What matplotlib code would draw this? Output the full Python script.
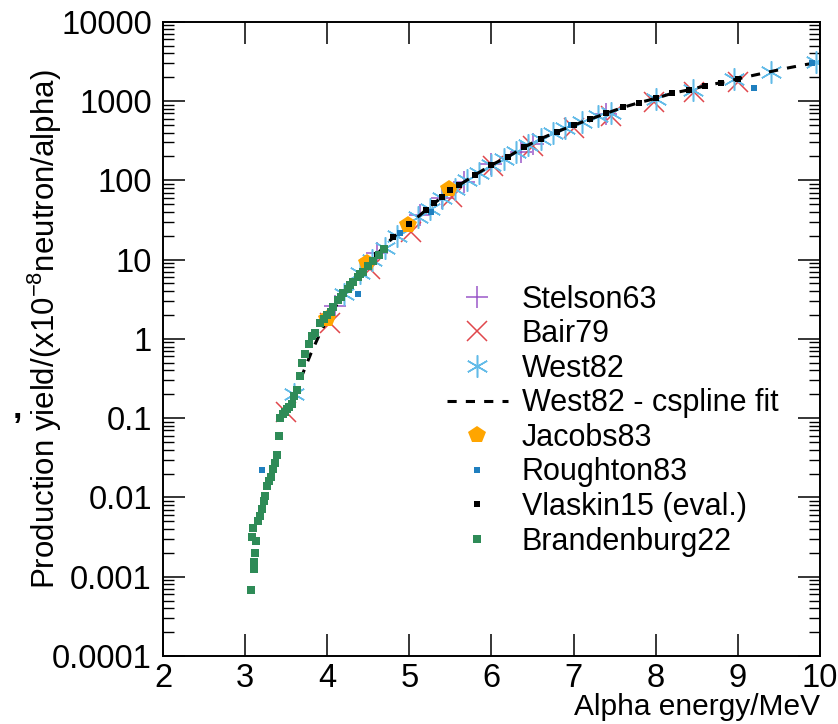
# coding=utf-8
import numpy as np
import matplotlib
matplotlib.use('Agg')
import matplotlib.pyplot as plt
from matplotlib.ticker import FixedLocator, LogLocator, FuncFormatter, NullFormatter

plt.rcParams['font.family'] = ['Liberation Sans', 'DejaVu Sans']
plt.rcParams['mathtext.default'] = 'regular'

# ---- data (alpha energy / MeV, yield x1e-8 n/alpha) ----
stelson_e = [4.1, 4.6, 5.13, 5.4, 5.66, 6.0, 6.36, 6.5, 7.4]
stelson_y = [2.6, 12, 36, 60, 95, 160, 225, 285, 690]

bair_e = [3.5, 4.03, 4.52, 5.02, 5.52, 6.02, 6.5, 7.0, 7.46, 7.98, 8.47, 9.0]
bair_y = [0.12, 1.6, 7.5, 22, 62, 150, 270, 460, 640, 975, 1280, 1720]

west_e = [3.6, 4.2, 4.4, 4.55, 4.7, 4.85, 5.1, 5.25, 5.4, 5.55, 5.7, 5.85,
          6.0, 6.15, 6.3, 6.45, 6.6, 6.75, 6.9, 7.1, 7.3, 7.45, 8.0, 8.45,
          8.95, 9.4, 9.95]
west_y = [0.2, 3.7, 6.8, 10, 14, 20, 34, 44, 60, 78, 100, 125,
          155, 185, 230, 280, 335, 390, 460, 540, 640, 700, 1060, 1380,
          1880, 2350, 3100]

fit_e = [3.5, 3.6, 3.7, 3.8, 3.9, 4.0, 4.2, 4.4, 4.6, 4.8, 5.0, 5.2, 5.4,
         5.6, 5.8, 6.0, 6.2, 6.4, 6.6, 6.8, 7.0, 7.2, 7.4, 7.6, 7.8, 8.0,
         8.2, 8.4, 8.6, 8.8, 9.0, 9.2, 9.4, 9.6, 9.8, 10.0]
fit_y = [0.12, 0.2, 0.36, 0.65, 1.1, 1.75, 3.7, 6.8, 11.5, 19, 28, 42, 62,
         86, 117, 156, 198, 262, 335, 410, 495, 590, 700, 830, 955, 1080,
         1250, 1380, 1550, 1710, 1900, 2120, 2350, 2600, 2850, 3100]

jacobs_e = [4.0, 4.49, 4.98, 5.48]
jacobs_y = [1.8, 9.0, 27, 78]

roughton_e = [3.21, 4.38, 4.89, 5.26, 6.97, 9.2, 9.9]
roughton_y = [0.022, 3.7, 21.5, 40, 500, 1470, 3030]

vlaskin_e = [4.2, 4.4, 4.6, 4.8, 5.0, 5.2, 5.3, 5.4, 5.5, 5.6, 5.8, 6.0,
             6.2, 6.4, 6.6, 6.8, 7.0, 7.2, 7.4, 7.6, 7.8, 8.0, 8.2, 8.4,
             8.6, 8.8, 9.0]
vlaskin_y = [3.7, 6.8, 11.5, 19, 28, 42, 51, 62, 75, 86, 117, 156,
             198, 262, 335, 410, 495, 590, 700, 830, 955, 1080, 1250, 1380,
             1550, 1710, 1900]

brand_e = [3.071, 3.083, 3.090, 3.103, 3.111, 3.123, 3.132, 3.151, 3.184,
           3.205, 3.233, 3.245, 3.266, 3.286, 3.315, 3.339, 3.368, 3.388,
           3.408, 3.429, 3.465, 3.49, 3.51, 3.53, 3.571, 3.60, 3.632, 3.673,
           3.694, 3.734, 3.774, 3.816, 3.856, 3.917, 3.96, 4.002, 4.04,
           4.076, 4.137, 4.17, 4.198, 4.247, 4.28, 4.308, 4.369, 4.40,
           4.43, 4.491, 4.552, 4.625, 4.686]
brand_y = [0.00068, 0.0032, 0.0041, 0.00125, 0.00153, 0.0020, 0.0028,
           0.0051, 0.0058, 0.0072, 0.0091, 0.0105, 0.014, 0.016, 0.018,
           0.023, 0.027, 0.034, 0.060, 0.099, 0.114, 0.12, 0.132, 0.14,
           0.152, 0.19, 0.223, 0.335, 0.489, 0.65, 0.87, 1.10, 1.2, 1.57,
           1.8, 1.98, 2.2, 2.49, 3.06, 3.4, 3.75, 4.3, 4.8, 5.2, 6.0, 6.5,
           6.9, 8.2, 9.5, 11.3, 13.5]

x_ticks = [2, 3, 4, 5, 6, 7, 8, 9, 10]
y_ticks = [1e-4, 1e-3, 1e-2, 1e-1, 1, 10, 100, 1000, 10000]

fig = plt.figure(figsize=(8.38, 7.24), dpi=100)
ax = fig.add_axes([0.1945, 0.094, 0.784, 0.876])

ax.plot(stelson_e, stelson_y, ls='none', marker='+', ms=16, mew=1.1,
        color='#9b59c9', label='Stelson63')
ax.plot(bair_e, bair_y, ls='none', marker='x', ms=14, mew=1.1,
        color='#e0474c', label='Bair79')
ax.plot(west_e, west_y, ls='none', marker=(6, 2, 0), ms=16, mew=1.1,
        color='#62bbe8', label='West82')
ax.plot(fit_e, fit_y, ls=(0, (3, 3)), lw=2.2, color='black',
        label='West82 - cspline fit')
ax.plot(jacobs_e, jacobs_y, ls='none', marker='p', ms=13, mew=0,
        color='#ffa500', label='Jacobs83')
ax.plot(roughton_e, roughton_y, ls='none', marker='s', ms=5, mew=0,
        color='#1f7fbf', label='Roughton83')
ax.plot(vlaskin_e, vlaskin_y, ls='none', marker='s', ms=5, mew=0,
        color='black', label='Vlaskin15 (eval.)')
ax.plot(brand_e, brand_y, ls='none', marker='s', ms=6, mew=0,
        color='#2e8b57', label='Brandenburg22')

ax.set_yscale('log')
ax.set_xlim(2, 10)
ax.set_ylim(1e-4, 1e4)
ax.xaxis.set_major_locator(FixedLocator(x_ticks))
ax.yaxis.set_major_locator(FixedLocator(y_ticks))
ax.yaxis.set_minor_locator(LogLocator(base=10, subs=np.arange(2, 10), numticks=20))
ax.yaxis.set_major_formatter(FuncFormatter(lambda v, p: '%g' % v))
ax.yaxis.set_minor_formatter(NullFormatter())

ax.tick_params(which='major', direction='in', length=16, width=1.1,
               labelsize=23.5, top=True, right=True, pad=8)
ax.tick_params(axis='x', which='major', pad=5)
ax.tick_params(which='minor', direction='in', length=8, width=1.0,
               top=True, right=True)
for s in ax.spines.values():
    s.set_linewidth(1.4)

ax.set_xlabel('Alpha energy/MeV', fontsize=21.5, loc='right')
ax.xaxis.set_label_coords(1.0, -0.058)
ax.set_ylabel('Production yield/(x10$^{-8}$neutron/alpha)', fontsize=22.5)
ax.yaxis.set_label_coords(-0.151, 0.515)

fig.text(17 / 838, 1 - 418 / 724, ',', fontsize=24, fontweight='bold',
         ha='center', va='baseline')

ax.legend(loc='upper left', bbox_to_anchor=(0.533, 0.607),
          bbox_transform=fig.transFigure, frameon=False, fontsize=22,
          borderpad=0, borderaxespad=0, handlelength=2.0,
          handletextpad=0.45, labelspacing=0.15, numpoints=1)

fig.savefig('out.png', dpi=100)
